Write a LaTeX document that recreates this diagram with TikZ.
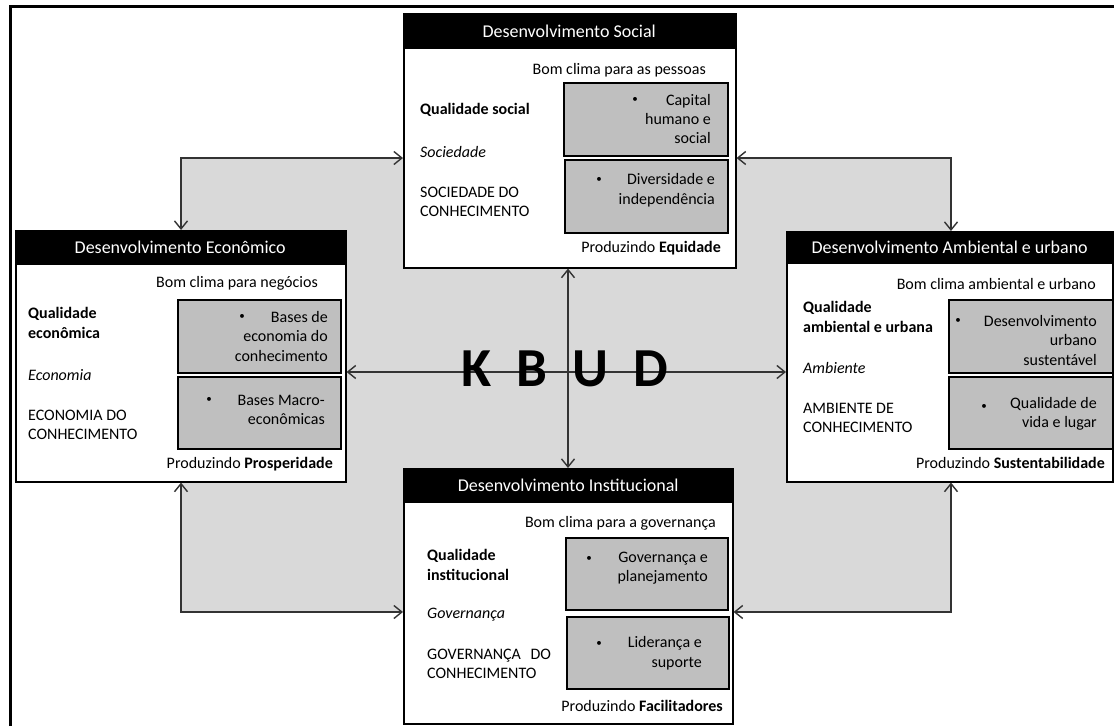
\documentclass[tikz,border=0pt]{standalone}
\usepackage{fontspec}
\setmainfont{Carlito}
\usetikzlibrary{arrows.meta}
\definecolor{fieldgrey}{HTML}{D9D9D9}
\definecolor{itemgrey}{HTML}{BFBFBF}
\definecolor{linegrey}{HTML}{333333}
\begin{document}
\begin{tikzpicture}[x=1pt,y=-1pt,
  card/.style={draw=black,line width=1.6pt,fill=white,anchor=north west,inner sep=0pt},
  head/.style={fill=black,text=white,anchor=north west,inner sep=0pt,
    font=\fontsize{18}{21}\selectfont},
  gbox/.style={draw=black,line width=1.8pt,fill=itemgrey,anchor=north west,inner sep=0pt},
  txt/.style={inner sep=0pt,font=\fontsize{16}{19.5}\selectfont},
  ltxt/.style={txt,anchor=west,align=left},
  rtxt/.style={txt,anchor=east,align=right},
  dot/.style={inner sep=0pt,font=\fontsize{11}{11}\selectfont},
  link/.style={draw=linegrey,line width=1.4pt,
    {Straight Barb[length=8pt,width=13pt]}-{Straight Barb[length=8pt,width=13pt]}}
]
\useasboundingbox (0,0) rectangle (1114,726);

% outer frame
\draw[line width=3pt] (10.5,726) -- (10.5,6.5) -- (1114,6.5);

% shaded field between the four dimensions
\fill[fieldgrey] (181,158) rectangle (951,612);

% ---------- cards ----------
\node[card,minimum width=332,minimum height=254] (soc) at (403,13) {};
\node[card,minimum width=330,minimum height=251] (eco) at (15,230) {};
\node[card,minimum width=326,minimum height=250] (amb) at (786,231) {};
\node[card,minimum width=329,minimum height=255] (ins) at (403,468) {};

% ---------- connectors ----------
\coordinate (tl) at (181,158);
\coordinate (tr) at (951,158);
\coordinate (bl) at (181,612);
\coordinate (br) at (951,612);
\coordinate (mid) at (568,372);
\draw[link] (eco.north -| tl) |- (soc.west |- tl);
\draw[link] (soc.east |- tr) -| (amb.north -| tr);
\draw[link] (eco.south -| bl) |- (ins.west |- bl);
\draw[link] (ins.east |- br) -| (amb.south -| br);
\draw[link] (eco.east |- mid) -- (amb.west |- mid);
\draw[link] (soc.south -| mid) -- (ins.north -| mid);

\node[inner sep=0pt,font=\bfseries\fontsize{55}{55}\selectfont] (kbud) at (565,369)
  {\spaceskip=25pt K B U D};

% ---------- Desenvolvimento Social ----------
\node[head,minimum width=332,minimum height=36] (sochead) at (403,13) {Desenvolvimento Social};
\node[rtxt] (socclima) at (706,70) {Bom clima para as pessoas};
\node[gbox,minimum width=164,minimum height=73] (soc1) at (563,82) {};
\node[gbox,minimum width=163,minimum height=73] (soc2) at (564,159) {};
\node[ltxt,font=\bfseries\fontsize{16}{19.5}\selectfont] (socq) at (420,110) {Qualidade social};
\node[ltxt,font=\itshape\fontsize{16}{19.5}\selectfont] (socs) at (420,152) {Sociedade};
\node[ltxt] (socc) at (420,202) {SOCIEDADE DO\\CONHECIMENTO};
\node[rtxt] (socp) at (721,248) {Produzindo \textbf{Equidade}};
\node[dot] (socb1) at (635,100) {•};
\node[rtxt] (soct1) at (711,119) {Capital\\humano e\\social};
\node[dot] (socb2) at (599,180) {•};
\node[rtxt] (soct2) at (715,190) {Diversidade e\\independência};

% ---------- Desenvolvimento Econômico ----------
\node[head,minimum width=330,minimum height=35] (ecohead) at (15,230) {Desenvolvimento Econômico};
\node[rtxt] (ecoclima) at (318,283) {Bom clima para negócios};
\node[gbox,minimum width=163,minimum height=73] (eco1) at (177,299) {};
\node[gbox,minimum width=163,minimum height=72] (eco2) at (177,376) {};
\node[ltxt,font=\bfseries\fontsize{16}{19.5}\selectfont] (ecoq) at (28,323) {Qualidade\\econômica};
\node[ltxt,font=\itshape\fontsize{16}{19.5}\selectfont] (ecos) at (28,375) {Economia};
\node[ltxt] (ecoc) at (28,425) {ECONOMIA DO\\CONHECIMENTO};
\node[rtxt] (ecop) at (333,464) {Produzindo \textbf{Prosperidade}};
\node[dot] (ecob1) at (242,317) {•};
\node[rtxt] (ecot1) at (328,336) {Bases de\\economia do\\conhecimento};
\node[dot] (ecob2) at (209,400) {•};
\node[rtxt] (ecot2) at (325,410) {Bases Macro-\\econômicas};

% ---------- Desenvolvimento Ambiental e urbano ----------
\node[head,minimum width=327,minimum height=33] (ambhead) at (786,231) {Desenvolvimento Ambiental e urbano};
\node[rtxt] (ambclima) at (1096,284) {Bom clima ambiental e urbano};
\node[gbox,minimum width=164,minimum height=73] (amb1) at (948,299) {};
\node[gbox,minimum width=164,minimum height=72] (amb2) at (948,376) {};
\node[ltxt,font=\bfseries\fontsize{16}{19.5}\selectfont] (ambq) at (803,317) {Qualidade\\ambiental e urbana};
\node[ltxt,font=\itshape\fontsize{16}{19.5}\selectfont] (ambs) at (803,368) {Ambiente};
\node[ltxt] (ambc) at (803,418) {AMBIENTE DE\\CONHECIMENTO};
\node[rtxt] (ambp) at (1105,463) {Produzindo \textbf{Sustentabilidade}};
\node[dot] (ambb1) at (958,321) {•};
\node[rtxt] (ambt1) at (1097,340) {Desenvolvimento\\urbano\\sustentável};
\node[dot] (ambb2) at (984,407) {•};
\node[rtxt] (ambt2) at (1097,414) {Qualidade de\\vida e lugar};

% ---------- Desenvolvimento Institucional ----------
\node[head,minimum width=330,minimum height=35] (inshead) at (403,468) {Desenvolvimento Institucional};
\node[rtxt] (insclima) at (716,523) {Bom clima para a governança};
\node[gbox,minimum width=162,minimum height=72] (ins1) at (565,537) {};
\node[gbox,minimum width=162,minimum height=72] (ins2) at (566,616) {};
\node[ltxt,font=\bfseries\fontsize{16}{19.5}\selectfont] (insq) at (427,565) {Qualidade\\institucional};
\node[ltxt,font=\itshape\fontsize{16}{19.5}\selectfont] (inss) at (427,615) {Governança};
\node[ltxt] (insc) at (427,664) {GOVERNANÇA\hspace{0.6em}DO\\CONHECIMENTO};
\node[rtxt] (insp) at (723,706) {Produzindo \textbf{Facilitadores}};
\node[dot] (insb1) at (589,559) {•};
\node[rtxt] (inst1) at (708,568) {Governança e\\planejamento};
\node[dot] (insb2) at (599,644) {•};
\node[rtxt] (inst2) at (702,653) {Liderança e\\suporte};
\end{tikzpicture}
\end{document}
